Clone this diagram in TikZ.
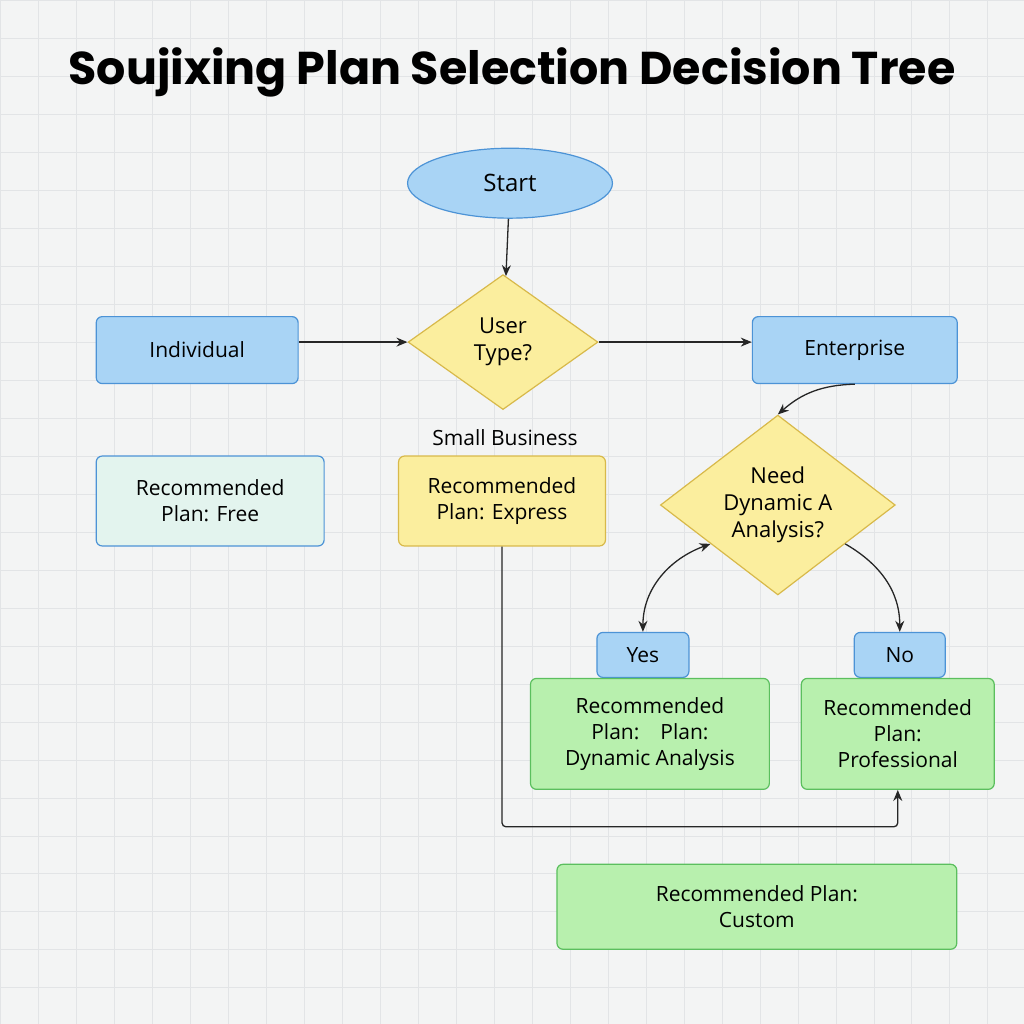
\documentclass[tikz,border=0pt]{standalone}
\usepackage{fontspec}
\setmainfont{Open Sans}
\newfontfamily\titlefont{Poppins}
\usetikzlibrary{shapes.geometric,arrows.meta}
\definecolor{bgpaper}{HTML}{F3F4F4}
\definecolor{gridcol}{HTML}{E2E4E6}
\definecolor{bluefill}{HTML}{A9D4F5}
\definecolor{blueline}{HTML}{4C93D6}
\definecolor{yelfill}{HTML}{FBEE9E}
\definecolor{yelline}{HTML}{D8B94A}
\definecolor{grnfill}{HTML}{B8F0AE}
\definecolor{grnline}{HTML}{5BBF5E}
\definecolor{mintfill}{HTML}{E3F4EE}
\tikzset{
  box/.style={draw=blueline,line width=1.2pt,rounded corners=6pt,fill=bluefill,align=center,font=\fontsize{21}{26}\selectfont},
  recbox/.style={box,fill=grnfill,draw=grnline},
  choice/.style={diamond,draw=yelline,line width=1.2pt,fill=yelfill,align=center,font=\fontsize{22}{27}\selectfont,inner sep=0pt,aspect=1.4},
  link/.style={-{Stealth[length=11pt,width=9pt]},line width=1.3pt,draw=black!85},
}
\begin{document}
\begin{tikzpicture}[x=1pt,y=-1pt]
  \fill[bgpaper] (0,0) rectangle (1024,1024);
  \foreach \g in {0,38,...,1024} {
    \draw[gridcol,line width=0.6pt] (\g,0) -- (\g,1024);
    \draw[gridcol,line width=0.6pt] (0,\g) -- (1024,\g);
  }
  \useasboundingbox (0,0) rectangle (1024,1024);
  \node[font=\titlefont\bfseries\fontsize{46}{50}\selectfont] (title) at (512,72) {Soujixing Plan Selection Decision Tree};
  \node[ellipse,draw=blueline,line width=1.2pt,fill=bluefill,minimum width=205,minimum height=70,font=\fontsize{24}{28}\selectfont] (start) at (510,183) {Start};
  \node[choice,minimum width=190,minimum height=135] (usertype) at (503,342) {User\\Type?};
  \node[box,minimum width=202,minimum height=67] (indiv) at (197,350) {Individual};
  \node[box,minimum width=205,minimum height=67] (enter) at (855,350) {Enterprise};
  \node[font=\fontsize{21}{26}\selectfont] (small) at (505,438) {Small Business};
  \node[box,fill=mintfill,minimum width=228,minimum height=90] (free) at (210,501) {Recommended\\Plan: Free};
  \node[box,fill=yelfill,draw=yelline,minimum width=207,minimum height=90] (express) at (502,501) {Recommended\\Plan: Express};
  \node[choice,minimum width=235,minimum height=180] (dynamic) at (778,505) {Need\\Dynamic A\\Analysis?};
  \node[box,minimum width=92,minimum height=45] (yes) at (643,655) {Yes};
  \node[box,minimum width=91,minimum height=45] (no) at (900,655) {No};
  \node[recbox,minimum width=239,minimum height=111] (dynrec) at (650,734) {Recommended\\Plan:\quad Plan:\\Dynamic Analysis};
  \node[recbox,minimum width=193,minimum height=111] (prof) at (898,734) {Recommended\\Plan:\\Professional};
  \node[recbox,minimum width=400,minimum height=85] (custom) at (757,907) {Recommended Plan:\\Custom};
  \coordinate (turnA) at (express.south |- 0,827);
  \coordinate (turnB) at (prof.south |- 0,827);
  % connectors
  \draw[link] (start) -- (usertype);
  \draw[link] (indiv.east |- usertype) -- (usertype.west);
  \draw[link] (usertype.east) -- (enter.west |- usertype);
  \draw[link] (enter.south) to[bend right=20] (dynamic.north);
  \draw[{Stealth[length=11pt,width=9pt]}-{Stealth[length=11pt,width=9pt]},line width=1.3pt,draw=black!85] (yes.north) to[out=90,in=200] (dynamic.210);
  \draw[link] (dynamic.330) to[out=-30,in=90] (no.north);
  \draw[link,rounded corners=4pt] (express.south) -- (turnA) -- (turnB) -- (prof.south);
\end{tikzpicture}
\end{document}
